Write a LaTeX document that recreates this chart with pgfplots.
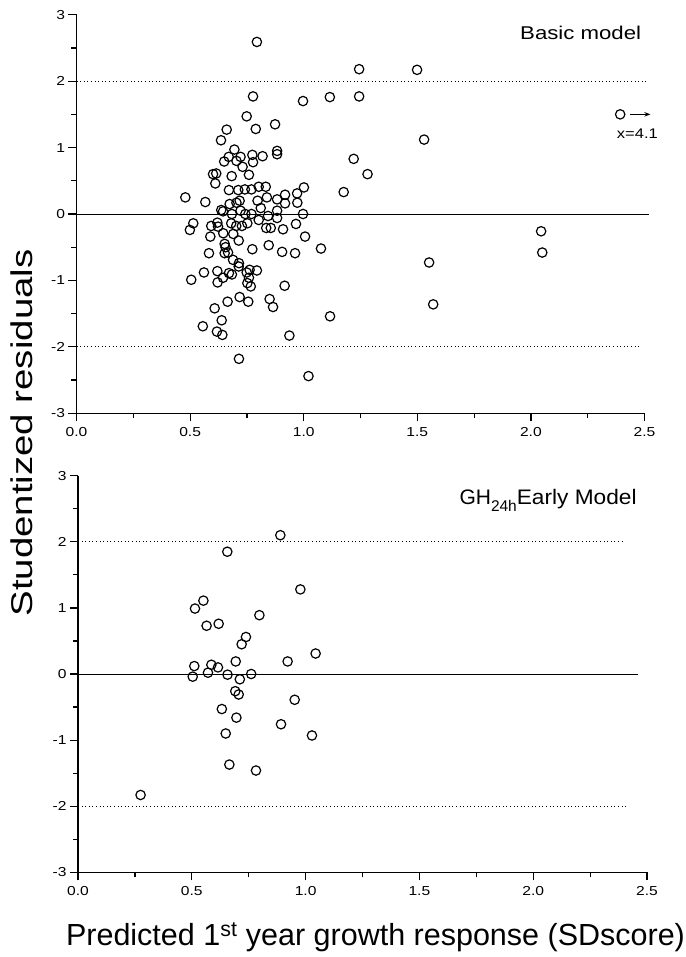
\documentclass[border=0pt]{standalone}
\usepackage{pgfplots}
\pgfplotsset{compat=1.18}
\usepackage{graphicx}
\usepackage{fontspec}
\setmainfont{Liberation Sans}
\usetikzlibrary{arrows.meta}

\pgfplotstableread{
x y
0.794 2.59
1.244 2.18
1.499 2.17
0.777 1.77
0.997 1.70
1.115 1.76
1.244 1.77
0.749 1.47
0.661 1.27
0.789 1.28
0.874 1.35
0.636 1.11
1.530 1.12
0.695 0.97
0.883 0.95
0.883 0.90
0.670 0.86
0.722 0.86
0.774 0.89
0.819 0.87
0.650 0.79
0.704 0.80
0.777 0.78
0.731 0.71
0.601 0.60
0.615 0.61
0.759 0.59
0.683 0.57
0.611 0.46
1.220 0.83
1.281 0.60
1.176 0.33
0.479 0.25
0.567 0.18
0.671 0.36
0.712 0.36
0.741 0.37
0.770 0.37
0.802 0.41
0.833 0.41
0.718 0.20
0.797 0.20
0.838 0.25
0.883 0.22
0.918 0.29
0.918 0.16
0.971 0.31
1.001 0.40
0.972 0.17
0.674 0.15
0.704 0.17
0.637 0.06
0.645 0.04
0.811 0.09
0.883 0.05
0.997 0.00
0.684 0.00
0.722 0.05
0.743 0.00
0.770 0.00
0.843 -0.03
0.883 -0.06
0.514 -0.14
0.499 -0.24
0.593 -0.18
0.620 -0.13
0.623 -0.19
0.681 -0.14
0.703 -0.18
0.728 -0.18
0.752 -0.14
0.802 -0.09
0.835 -0.21
0.855 -0.21
0.909 -0.23
0.966 -0.15
0.589 -0.34
0.646 -0.29
0.690 -0.30
0.652 -0.45
0.656 -0.50
0.714 -0.40
1.006 -0.34
0.583 -0.59
0.652 -0.59
0.667 -0.58
0.774 -0.53
0.846 -0.47
0.905 -0.57
0.962 -0.59
1.076 -0.52
0.689 -0.69
0.715 -0.74
0.714 -0.79
0.561 -0.88
0.620 -0.86
0.645 -0.96
0.671 -0.89
0.684 -0.91
0.621 -1.03
0.505 -0.99
0.749 -0.88
0.762 -0.84
0.794 -0.85
0.759 -0.96
0.752 -1.04
0.767 -1.09
0.916 -1.08
0.718 -1.25
0.756 -1.32
0.665 -1.32
0.850 -1.28
0.865 -1.40
0.608 -1.42
0.639 -1.60
1.116 -1.54
0.556 -1.69
0.618 -1.77
0.642 -1.82
0.937 -1.83
0.715 -2.18
1.021 -2.44
2.045 -0.26
2.050 -0.58
1.552 -0.73
1.570 -1.36
2.393 1.50
}\basic

\pgfplotstableread{
x y
0.889 2.10
0.656 1.85
0.977 1.28
0.551 1.11
0.514 0.99
0.797 0.89
0.565 0.73
0.618 0.76
0.738 0.56
0.719 0.45
1.044 0.31
0.511 0.12
0.586 0.14
0.615 0.10
0.693 0.19
0.921 0.19
0.504 -0.04
0.571 0.02
0.657 -0.01
0.711 -0.08
0.761 0.00
0.691 -0.26
0.706 -0.31
0.952 -0.39
0.632 -0.53
0.696 -0.66
0.892 -0.76
0.649 -0.90
1.028 -0.93
0.665 -1.37
0.782 -1.46
0.275 -1.83
}\early

\newcommand{\tl}[1]{{\fontsize{13}{15}\selectfont\scalebox{1.2}[1]{#1}}}

\pgfplotsset{
 resid/.style={
  scale only axis,
  xmin=0, xmax=2.5, ymin=-3, ymax=3,
  axis x line=bottom, axis y line=left,
  axis line style={-, line width=1.3pt},
  xtick={0,0.5,...,2.5}, xticklabels={\tl{0.0},\tl{0.5},\tl{1.0},\tl{1.5},\tl{2.0},\tl{2.5}},
  ytick={-3,-2,...,3}, yticklabels={\tl{-3},\tl{-2},\tl{-1},\tl{0},\tl{1},\tl{2},\tl{3}},
  xticklabel style={yshift=-3pt},
  minor x tick num=1, minor y tick num=1,
  tick align=outside, major tick length=8pt, minor tick length=5pt,
  every tick/.style={black, line width=1.2pt},
  clip=false,
 },
 pts/.style={only marks, mark=o, mark size=4.7pt, mark options={black, line width=1.2pt}},
 dots/.style={black, line width=0.9pt, dash pattern=on 1pt off 2.6pt},
}

\begin{document}
\begin{tikzpicture}
\useasboundingbox (0pt,0pt) rectangle (685pt,-957pt);

\begin{axis}[resid, width=568pt, height=398.6pt, at={(76.5pt,-413.3pt)}, anchor=south west]
\addplot[dots] coordinates {(0,2) (2.51,2)};
\addplot[dots] coordinates {(0,-2) (2.48,-2)};
\addplot[black, line width=0.9pt] coordinates {(0,0) (2.52,0)};
\addplot[pts] table[x=x, y=y] {\basic};
\draw[-{Stealth[length=6pt,width=4.5pt]}, line width=1pt] (axis cs:2.436,1.5) -- (axis cs:2.526,1.5);
\end{axis}

\begin{axis}[resid, width=569pt, height=396.6pt, at={(78pt,-872.3pt)}, anchor=south west]
\addplot[dots] coordinates {(0,2) (2.40,2)};
\addplot[dots] coordinates {(0,-2) (2.42,-2)};
\addplot[black, line width=0.9pt] coordinates {(0,0) (2.46,0)};
\addplot[pts] table[x=x, y=y] {\early};
\end{axis}

\node[anchor=base west, inner sep=0pt] at (520pt,-39.3pt) {\fontsize{18.5}{22}\selectfont\scalebox{1.2}[1]{Basic model}};
\node[anchor=base west, inner sep=0pt] at (616.7pt,-138.3pt) {\fontsize{14}{16}\selectfont\scalebox{1.18}[1]{x=4.1}};
\node[anchor=base west, inner sep=0pt] at (459.3pt,-504.3pt) {\fontsize{21}{24}\selectfont GH\raisebox{-7pt}{\fontsize{15.5}{18}\selectfont 24h}\scalebox{1.08}[1]{Early Model}};

\node[rotate=90, inner sep=0pt] at (22pt,-433pt) {\fontsize{30}{36}\selectfont\scalebox{1.28}[1]{Studentized residuals}};
\node[inner sep=0pt] at (375.5pt,-937pt) {\fontsize{30.5}{36}\selectfont Predicted 1\textsuperscript{st} year growth response (SDscore)};
\end{tikzpicture}
\end{document}
